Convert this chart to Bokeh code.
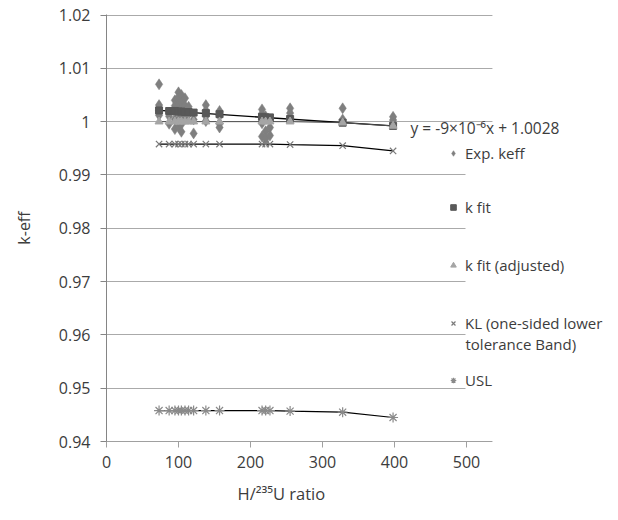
from bokeh.plotting import figure
from bokeh.models import (Range1d, FixedTicker, Legend, LegendItem, Label,
                          BoxAnnotation, Title)
from bokeh.embed import file_html
from bokeh.resources import INLINE

# ---- data ----
exp_x = [73, 73, 73, 73, 73,
         87, 87,
         95, 95, 95, 95, 95,
         100, 100, 100, 100, 100, 100,
         104, 104, 104, 104, 104, 104,
         109, 109, 109, 109,
         114, 114,
         121, 121,
         138, 138, 138, 138,
         157, 157, 157, 157,
         216, 216, 216, 216, 216,
         221, 221, 221,
         227, 227,
         255, 255, 255,
         328, 328,
         398, 398, 398]
exp_k = [1.0070, 1.0031, 1.0026, 1.0021, 1.0012,
         1.0010, 0.9996,
         1.0040, 1.0030, 1.0018, 1.0004, 0.9986,
         1.0055, 1.0046, 1.0032, 1.0016, 1.0001, 0.9990,
         1.0050, 1.0036, 1.0024, 1.0011, 0.9995, 0.9981,
         1.0044, 1.0030, 1.0019, 1.0006,
         1.0028, 1.0014,
         1.0004, 0.9978,
         1.0031, 1.0021, 1.0010, 1.0001,
         1.0020, 1.0011, 0.9996, 0.9989,
         1.0023, 1.0015, 1.0004, 0.9997, 0.9972,
         1.0010, 0.9982, 0.9968,
         0.9989, 0.9974,
         1.0025, 1.0016, 1.0006,
         1.0025, 1.0004,
         1.0009, 1.0003, 0.9997]

grp_x = [73, 87, 95, 100, 104, 109, 114, 121, 138, 157, 216, 221, 227, 255, 328, 398]
k_fit = [1.0021, 1.0020, 1.0020, 1.0019, 1.0019, 1.0018, 1.0018, 1.0017,
         1.0016, 1.0014, 1.0009, 1.0008, 1.0008, 1.0005, 0.9998, 0.9992]
k_fit_adj = [1.0000, 1.0000, 1.0000, 1.0000, 1.0000, 1.0000, 1.0000, 1.0000,
             1.0000, 1.0000, 1.0000, 1.0000, 1.0000, 1.0000, 0.9998, 0.9992]
kl = [0.9958, 0.9958, 0.9958, 0.9958, 0.9958, 0.9958, 0.9958, 0.9958,
      0.9958, 0.9958, 0.9958, 0.9958, 0.9958, 0.9957, 0.9955, 0.9945]
usl = [0.9458, 0.9458, 0.9458, 0.9458, 0.9458, 0.9458, 0.9458, 0.9458,
       0.9458, 0.9458, 0.9458, 0.9458, 0.9458, 0.9457, 0.9455, 0.9445]
trend_x = [73, 398]
trend_y = [1.0021, 0.9992]

x_ticks = [0, 100, 200, 300, 400, 500]
y_ticks = [0.94, 0.95, 0.96, 0.97, 0.98, 0.99, 1.0, 1.01, 1.02]
y_labels = ["0.94", "0.95", "0.96", "0.97", "0.98", "0.99", "1", "1.01", "1.02"]
x_axis_max = 536

FONT = "Open Sans"
TXT = "#3c3c3c"

p = figure(width=618, height=520, output_backend="svg", toolbar_location=None,
           x_range=Range1d(0, 711.1), y_range=Range1d(0.94, 1.0201),
           min_border_left=106, min_border_right=0, min_border_top=14,
           min_border_bottom=79)
p.outline_line_color = None
p.background_fill_color = "white"
p.border_fill_color = "white"
p.xgrid.visible = False
p.ygrid.grid_line_color = "#aaaaaa"
p.ygrid.grid_line_width = 1

p.yaxis.ticker = FixedTicker(ticks=y_ticks)
p.yaxis.major_label_overrides = dict(zip(y_ticks, y_labels))
p.xaxis.ticker = FixedTicker(ticks=x_ticks)
p.xaxis.bounds = (0, x_axis_max)
for ax, col in ((p.xaxis, "#a0a0a0"), (p.yaxis, "#858585")):
    ax.axis_line_color = col
    ax.major_tick_line_color = col
    ax.major_tick_out = 6
    ax.major_tick_in = 0
    ax.minor_tick_out = 0
    ax.minor_tick_in = 0
    ax.major_label_text_font = FONT
    ax.major_label_text_font_size = "16px"
    ax.major_label_text_color = TXT
p.yaxis.major_label_standoff = 10
p.xaxis.major_label_standoff = 8
p.yaxis.axis_label = "k-eff"
p.yaxis.axis_label_text_font = FONT
p.yaxis.axis_label_text_font_size = "16px"
p.yaxis.axis_label_text_font_style = "normal"
p.yaxis.axis_label_text_color = TXT
p.yaxis.axis_label_standoff = 21

p.add_layout(Title(text="H/\u00b2\u00b3\u2075U ratio", align="left", offset=131,
                   text_font=FONT, text_font_size="16.5px", text_font_style="normal",
                   text_color=TXT, standoff=19), "below")

# trend lines
p.line(trend_x, trend_y, line_color="black", line_width=1.3)
p.line(grp_x, k_fit_adj, line_color="#505050", line_width=1)
p.line(grp_x, kl, line_color="black", line_width=1.2)
p.line(grp_x, usl, line_color="black", line_width=1.2)

r_exp = p.scatter(exp_x, exp_k, marker="diamond", size=11, fill_color="#7f7f7f",
                  line_color="#7f7f7f", line_width=0.5)
r_fit = p.scatter(grp_x, k_fit, marker="square", size=7, fill_color="#595959",
                  line_color="#595959")
r_adj = p.scatter(grp_x, k_fit_adj, marker="triangle", size=8, fill_color="#a5a5a5",
                  line_color="#a5a5a5")
r_kl = p.scatter(grp_x, kl, marker="x", size=9, line_color="#7a7a7a", line_width=1.2)
r_usl = p.scatter(grp_x, usl, marker="asterisk", size=10, line_color="#8a8a8a",
                  line_width=1.2)

# white area right of the plot area, and legend panel (hides gridlines)
p.add_layout(BoxAnnotation(left=x_axis_max, fill_color="white", fill_alpha=1,
                           line_alpha=0))
p.add_layout(BoxAnnotation(left=498.6, top=0.9978, bottom=0.9445,
                           fill_color="white", fill_alpha=1, line_alpha=0))

labels = ["Exp. keff", "k fit", "k fit (adjusted)", "KL (one-sided lower", "USL"]
rends = [r_exp, r_fit, r_adj, r_kl, r_usl]
locs_y = [278, 224, 166, 108, 51]
for lab, r, ly in zip(labels, rends, locs_y):
    lg = Legend(items=[LegendItem(label=lab, renderers=[r])], location=(340, ly),
                padding=0, margin=0, spacing=0, glyph_width=14, glyph_height=14,
                label_standoff=5, label_height=20,
                label_text_font=FONT, label_text_font_size="15px",
                label_text_color=TXT, background_fill_alpha=0,
                border_line_alpha=0)
    p.add_layout(lg)

p.add_layout(Label(x=498.6, y=0.95824, text="tolerance Band)", text_font=FONT,
                   text_font_size="15px", text_color=TXT, text_baseline="middle"))
p.add_layout(Label(x=422.2, y=0.99888, text="y = -9\u00d710\u207b\u2076x + 1.0028",
                   text_font=FONT, text_font_size="15.5px", text_color=TXT,
                   text_baseline="middle"))

open("out.html", "w").write(file_html(p, INLINE))
